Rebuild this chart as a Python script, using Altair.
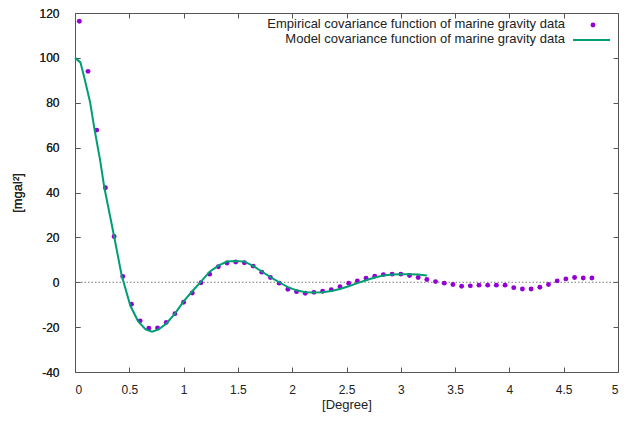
import altair as alt
import pandas as pd

# Empirical covariance (purple points)
emp_x = [0.04, 0.12, 0.20, 0.28, 0.36, 0.44, 0.52, 0.60, 0.68, 0.76,
         0.84, 0.92, 1.00, 1.08, 1.16, 1.24, 1.32, 1.40, 1.48, 1.56,
         1.64, 1.72, 1.80, 1.88, 1.96, 2.04, 2.12, 2.20, 2.28, 2.36,
         2.44, 2.52, 2.60, 2.68, 2.76, 2.84, 2.92, 3.00, 3.08, 3.16,
         3.24, 3.32, 3.40, 3.48, 3.56, 3.64, 3.72, 3.80, 3.88, 3.96,
         4.04, 4.12, 4.20, 4.28, 4.36, 4.44, 4.52, 4.60, 4.68, 4.76]
emp_y = [116.3, 94.0, 67.8, 42.1, 20.4, 2.6, -9.8, -17.2, -20.5, -20.4,
         -17.9, -14.0, -8.9, -4.8, -0.2, 3.6, 6.9, 8.6, 9.0, 8.7,
         7.2, 4.5, 2.1, -0.4, -3.1, -4.2, -4.9, -4.5, -4.0, -3.3,
         -2.0, -0.4, 0.6, 1.8, 2.7, 3.4, 3.6, 3.6, 3.0, 2.1,
         1.2, 0.3, -0.4, -1.0, -1.8, -1.6, -1.3, -1.3, -1.3, -1.3,
         -2.4, -3.0, -3.0, -2.2, -1.0, 0.6, 1.5, 2.1, 1.9, 1.9]

# Model covariance (green line)
mod_x = [0.00, 0.05, 0.09, 0.14, 0.18, 0.23, 0.27, 0.36, 0.43, 0.51,
         0.58, 0.65, 0.71, 0.77, 0.84, 0.92, 1.00, 1.08, 1.16, 1.24,
         1.32, 1.40, 1.48, 1.56, 1.64, 1.72, 1.80, 1.88, 1.96, 2.04,
         2.12, 2.20, 2.28, 2.36, 2.44, 2.52, 2.60, 2.68, 2.76, 2.84,
         2.92, 3.00, 3.08, 3.16, 3.24]
mod_y = [100.0, 98.0, 90.4, 80.0, 68.0, 54.8, 42.2, 20.5, 3.0, -10.5,
         -17.3, -21.0, -22.0, -21.0, -18.5, -14.0, -8.5, -4.0, 0.3, 4.7,
         7.4, 9.2, 9.5, 9.2, 7.3, 4.8, 2.3, 0.0, -2.2, -3.6,
         -4.5, -4.6, -4.5, -3.9, -3.0, -1.8, -0.4, 0.9, 2.1, 3.0,
         3.4, 3.6, 3.6, 3.4, 3.0]

x_ticks = [0, 0.5, 1, 1.5, 2, 2.5, 3, 3.5, 4, 4.5, 5]
y_ticks = [-40, -20, 0, 20, 40, 60, 80, 100, 120]

legend_labels = ["Empirical covariance function of marine gravity data",
                 "Model covariance function of marine gravity data"]

PURPLE = "#9400D3"
GREEN = "#009E73"
FONT = "Liberation Sans"
AXC = "#555555"

emp = pd.DataFrame({"x": emp_x, "y": emp_y})
mod = pd.DataFrame({"x": mod_x, "y": mod_y})
zero = pd.DataFrame({"y": [0]})
one = pd.DataFrame({"a": [0]})

xs = alt.Scale(domain=[0, 5], nice=False, zero=False)
ys = alt.Scale(domain=[-40, 120], nice=False, zero=False)

common_axis = dict(domain=False, grid=False, tickSize=5, offset=-5,
                   tickColor=AXC, labelFont=FONT, labelFontSize=12,
                   labelColor="#222", titleFont=FONT, titleFontSize=13,
                   titleFontWeight="normal", titleColor="#222",
                   labelExpr="'' + datum.value")

x_bottom = alt.Axis(orient="bottom", values=x_ticks, title="[Degree]",
                    labelPadding=12, titlePadding=3, **common_axis)
y_left = alt.Axis(orient="left", values=y_ticks, title="[mgal²]",
                  labelPadding=16, titlePadding=14, **common_axis)
x_top = alt.Axis(orient="top", values=x_ticks, title=None, labels=False,
                 **common_axis)
y_right = alt.Axis(orient="right", values=y_ticks, title=None, labels=False,
                   **common_axis)

zero_line = alt.Chart(zero).mark_rule(color="#777", strokeDash=[1.5, 2],
                                       strokeWidth=1).encode(
    y=alt.Y("y:Q", scale=ys, axis=y_left)
)

points = alt.Chart(emp).mark_circle(color=PURPLE, size=24, opacity=1).encode(
    x=alt.X("x:Q", scale=xs, axis=x_bottom),
    y=alt.Y("y:Q", scale=ys, axis=y_left),
)

line = alt.Chart(mod).mark_line(color=GREEN, strokeWidth=2).encode(
    x=alt.X("x:Q", scale=xs, axis=x_top),
    y=alt.Y("y:Q", scale=ys, axis=y_right),
)

leg_t1 = alt.Chart(one).mark_text(align="right", baseline="middle", font=FONT,
                                  fontSize=13, color="#222").encode(
    x=alt.value(490), y=alt.value(11), text=alt.value(legend_labels[0]))
leg_t2 = alt.Chart(one).mark_text(align="right", baseline="middle", font=FONT,
                                  fontSize=13, color="#222").encode(
    x=alt.value(490), y=alt.value(26), text=alt.value(legend_labels[1]))
leg_p = alt.Chart(one).mark_circle(color=PURPLE, size=24, opacity=1).encode(
    x=alt.value(518), y=alt.value(12))
leg_l = alt.Chart(one).mark_rule(color=GREEN, strokeWidth=2).encode(
    x=alt.value(498), x2=alt.value(535), y=alt.value(27))

chart = alt.layer(zero_line, points, line, leg_t1, leg_t2, leg_p, leg_l).resolve_axis(
    x="independent", y="independent"
).properties(
    width=543, height=359,
    autosize=alt.AutoSizeParams(type="none"),
    padding={"left": 67, "top": 5, "right": 3, "bottom": 41},
    background="white",
).configure_view(stroke=AXC, strokeWidth=1)

chart.save("out.html", embed_options={"renderer": "svg", "actions": False})
